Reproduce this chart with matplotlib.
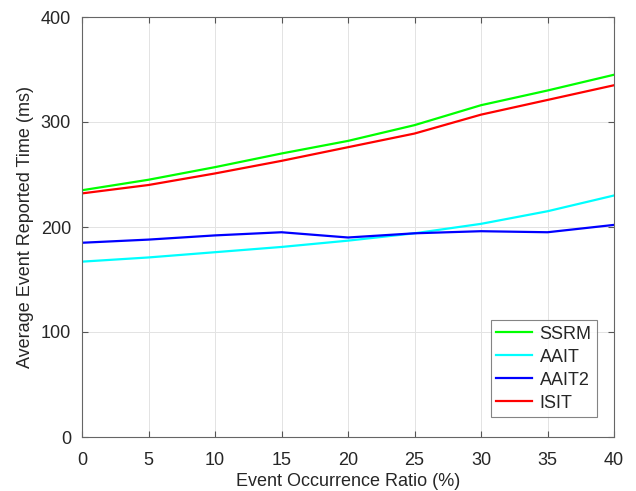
import matplotlib
matplotlib.use("Agg")
import matplotlib.pyplot as plt

plt.rcParams['font.family'] = ['Liberation Sans', 'DejaVu Sans']

x = [0, 5, 10, 15, 20, 25, 30, 35, 40]
ssrm = [235, 245, 257, 270, 282, 297, 316, 330, 345]
aait = [167, 171, 176, 181, 187, 194, 203, 215, 230]
aait2 = [185, 188, 192, 195, 190, 194, 196, 195, 202]
isit = [232, 240, 251, 263, 276, 289, 307, 321, 335]

fig = plt.figure(figsize=(6.36, 4.91), dpi=100)
ax = fig.add_axes([82/636, 54/491, 532/636, 420/491])

ax.plot(x, ssrm, color='#00ff00', lw=1.6, label='SSRM')
ax.plot(x, aait, color='#00ffff', lw=1.6, label='AAIT')
ax.plot(x, aait2, color='#0000ff', lw=1.6, label='AAIT2')
ax.plot(x, isit, color='#ff0000', lw=1.6, label='ISIT')

ax.set_xlim(0, 40)
ax.set_ylim(0, 400)
ax.set_xticks(range(0, 41, 5))
ax.set_yticks([0, 100, 200, 300, 400])
ax.grid(True, color='#e3e3e3', lw=0.7)
ax.set_axisbelow(True)
ax.tick_params(direction='in', top=True, right=True, labelsize=13, length=4,
               color='#555555', labelcolor='#262626')
ax.tick_params(axis='x', pad=11)
ax.tick_params(axis='y', pad=8)
for s in ax.spines.values():
    s.set_color('#666666')
    s.set_linewidth(0.8)
ax.set_xlabel('Event Occurrence Ratio (%)', fontsize=13, labelpad=3, color='#262626')
ax.set_ylabel('Average Event Reported Time (ms)', fontsize=13, labelpad=5, color='#262626')

leg = ax.legend(loc='lower right', bbox_to_anchor=(597/636, (491-417)/491), bbox_transform=fig.transFigure,
                fontsize=13, frameon=True, fancybox=False, handlelength=2.0, borderpad=0.3,
                labelspacing=0.33, handletextpad=0.4, borderaxespad=0)
leg.get_frame().set_edgecolor('#666666')
leg.get_frame().set_linewidth(0.8)
for t in leg.get_texts():
    t.set_color('#262626')

fig.savefig('out.png', dpi=100)
